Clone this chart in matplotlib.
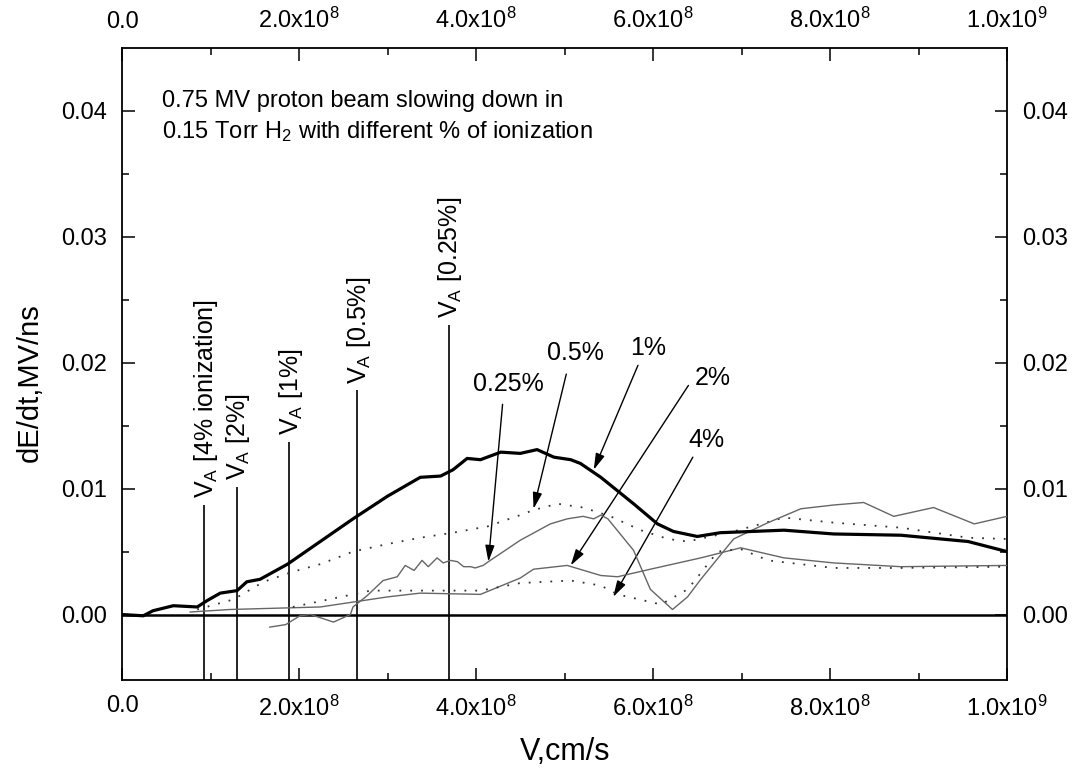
import numpy as np
import matplotlib
matplotlib.use("Agg")
import matplotlib.pyplot as plt
from matplotlib.ticker import FixedLocator

plt.rcParams['font.family'] = ['Liberation Sans', 'DejaVu Sans']
plt.rcParams['mathtext.fontset'] = 'custom'
plt.rcParams['mathtext.rm'] = 'Liberation Sans'
plt.rcParams['mathtext.it'] = 'Liberation Sans:italic'

# velocities in units of 1e9 cm/s, dE/dt in MV/ns
v_1pct = [0.0, 0.024, 0.035, 0.058, 0.085, 0.096, 0.111, 0.130, 0.141, 0.156, 0.187,
          0.224, 0.261, 0.300, 0.337, 0.360, 0.374, 0.390, 0.405, 0.428, 0.450, 0.469,
          0.488, 0.507, 0.518, 0.541, 0.578, 0.605, 0.623, 0.650, 0.676, 0.748, 0.804,
          0.880, 0.956, 1.0]
dedt_1pct = [0.0, -0.0001, 0.0003, 0.0007, 0.0006, 0.0011, 0.0017, 0.0019, 0.0026, 0.0028,
             0.0040, 0.0058, 0.0076, 0.0094, 0.0109, 0.0110, 0.0115, 0.0124, 0.0123, 0.0129,
             0.0128, 0.0131, 0.0125, 0.0123, 0.0120, 0.0109, 0.0088, 0.0072, 0.0066, 0.0062,
             0.0065, 0.0067, 0.0064, 0.0063, 0.0058, 0.0050]

v_05pct = [0.085, 0.126, 0.160, 0.193, 0.224, 0.261, 0.300, 0.337, 0.374, 0.413, 0.450,
           0.465, 0.492, 0.521, 0.552, 0.586, 0.617, 0.639, 0.691, 0.748, 0.804, 0.880,
           0.956, 1.0]
dedt_05pct = [0.0004, 0.0012, 0.0026, 0.0034, 0.0040, 0.0050, 0.0056, 0.0061, 0.0065, 0.0070,
              0.0079, 0.0083, 0.0088, 0.0085, 0.0078, 0.0067, 0.0060, 0.0058, 0.0066, 0.0077,
              0.0073, 0.0069, 0.0061, 0.0060]

v_025pct = [0.167, 0.185, 0.201, 0.213, 0.239, 0.258, 0.261, 0.277, 0.295, 0.311, 0.320,
            0.330, 0.339, 0.346, 0.356, 0.363, 0.371, 0.379, 0.386, 0.394, 0.399, 0.408,
            0.414, 0.450, 0.484, 0.503, 0.521, 0.533, 0.541, 0.549, 0.578, 0.597, 0.622,
            0.639, 0.654, 0.691, 0.730, 0.767, 0.804, 0.838, 0.872, 0.917, 0.963, 1.0]
dedt_025pct = [-0.0010, -0.0008, -0.0001, 0.0000, -0.0006, 0.0000, 0.0006, 0.0015, 0.0027,
               0.0030, 0.0039, 0.0035, 0.0043, 0.0038, 0.0045, 0.0041, 0.0043, 0.0042, 0.0038,
               0.0038, 0.0037, 0.0039, 0.0042, 0.0059, 0.0072, 0.0076, 0.0078, 0.0076, 0.0079,
               0.0076, 0.0051, 0.0020, 0.0004, 0.0014, 0.0028, 0.0060, 0.0073, 0.0084, 0.0087,
               0.0089, 0.0078, 0.0085, 0.0072, 0.0078]

v_2pct = [0.077, 0.122, 0.224, 0.300, 0.337, 0.405, 0.450, 0.465, 0.503, 0.541, 0.560,
          0.597, 0.654, 0.699, 0.748, 0.804, 0.880, 1.0]
dedt_2pct = [0.0002, 0.0004, 0.0006, 0.0014, 0.0017, 0.0016, 0.0029, 0.0036, 0.0039, 0.0031,
             0.0030, 0.0036, 0.0045, 0.0053, 0.0045, 0.0041, 0.0038, 0.0039]

v_4pct = [0.193, 0.281, 0.337, 0.405, 0.450, 0.507, 0.541, 0.560, 0.609, 0.639, 0.654,
          0.673, 0.699, 0.730, 0.804, 0.880, 1.0]
dedt_4pct = [0.0006, 0.0019, 0.0019, 0.0019, 0.0025, 0.0027, 0.0023, 0.0016, 0.0008, 0.0020,
             0.0033, 0.0050, 0.0052, 0.0043, 0.0037, 0.0037, 0.0038]

# Alfven velocity markers
va_x = [0.093, 0.130, 0.189, 0.266, 0.369]
va_top = [0.0087, 0.0101, 0.0137, 0.0178, 0.0230]
va_labels = ['V$_\\mathregular{A}$ [4% ionization]', 'V$_\\mathregular{A}$ [2%]',
             'V$_\\mathregular{A}$ [1%]', 'V$_\\mathregular{A}$ [0.5%]',
             'V$_\\mathregular{A}$ [0.25%]']

# curve labels: text position, arrow tail, arrow tip
curve_labels = ['0.25%', '0.5%', '1%', '2%', '4%']
label_xy = [(0.436, 0.0183), (0.512, 0.0208), (0.594, 0.0212), (0.667, 0.0188), (0.660, 0.0139)]
arrow_tail = [(0.430, 0.0167), (0.502, 0.0191), (0.583, 0.0198), (0.640, 0.0182), (0.645, 0.0125)]
arrow_tip = [(0.414, 0.0042), (0.465, 0.0084), (0.533, 0.0115), (0.507, 0.0039), (0.555, 0.0014)]

x_ticks = [0.0, 0.2e9, 0.4e9, 0.6e9, 0.8e9, 1.0e9]
x_ticklabels = ['0.0', '2.0x10$^\\mathregular{8}$', '4.0x10$^\\mathregular{8}$',
                '6.0x10$^\\mathregular{8}$', '8.0x10$^\\mathregular{8}$', '1.0x10$^\\mathregular{9}$']
y_ticks = [0.0, 0.01, 0.02, 0.03, 0.04]
y_ticklabels = ['0.00', '0.01', '0.02', '0.03', '0.04']

SCALE = 1e9
y_lo, y_hi = -0.0052, 0.045

fig = plt.figure(figsize=(10.76, 7.75), dpi=100)
ax = fig.add_axes([0.1134, 0.1226, 0.8225, 0.8154])

ax.vlines(np.array(va_x) * SCALE, y_lo, va_top, color='black', lw=1.2, zorder=2)
for x, top, lab in zip(va_x, va_top, va_labels):
    ax.annotate(lab, xy=(x * SCALE, top), xytext=(1, 5), textcoords='offset points',
                rotation=90, ha='center', va='bottom', fontsize=18)

ax.axhline(0.0, color='black', lw=1.8, zorder=3)

ax.plot(np.array(v_1pct) * SCALE, dedt_1pct, color='black', lw=2.3, zorder=5)
ax.plot(np.array(v_05pct) * SCALE, dedt_05pct, color='#333333', lw=1.3,
        linestyle=(0, (1, 5)), zorder=4)
ax.plot(np.array(v_025pct) * SCALE, dedt_025pct, color='#666666', lw=1.0, zorder=4)
ax.plot(np.array(v_2pct) * SCALE, dedt_2pct, color='#666666', lw=1.0, zorder=4)
ax.plot(np.array(v_4pct) * SCALE, dedt_4pct, color='#333333', lw=1.3,
        linestyle=(0, (1, 5)), zorder=4)

for lab, xy, tail, tip in zip(curve_labels, label_xy, arrow_tail, arrow_tip):
    ax.text(xy[0] * SCALE, xy[1], lab, ha='center', va='center', fontsize=18)
    ax.annotate('', xy=(tip[0] * SCALE, tip[1]), xytext=(tail[0] * SCALE, tail[1]),
                arrowprops=dict(arrowstyle='-|>,head_length=0.7,head_width=0.2',
                                color='black', lw=1.0, shrinkA=0, shrinkB=0,
                                mutation_scale=14))

ax.text(0.045, 0.9066, '0.75 MV proton beam slowing down in', transform=ax.transAxes,
        fontsize=17, va='baseline')
ax.text(0.045, 0.8576, '0.15 Torr H$_\\mathregular{2}$ with different % of ionization',
        transform=ax.transAxes, fontsize=17, va='baseline')

ax.set_xlim(0, 1.0e9)
ax.set_ylim(y_lo, y_hi)
ax.xaxis.set_major_locator(FixedLocator(x_ticks))
ax.xaxis.set_minor_locator(FixedLocator([0.1e9, 0.3e9, 0.5e9, 0.7e9, 0.9e9]))
ax.yaxis.set_major_locator(FixedLocator(y_ticks))
ax.yaxis.set_minor_locator(FixedLocator([0.005, 0.015, 0.025, 0.035]))
ax.set_xticklabels(x_ticklabels)
ax.set_yticklabels(y_ticklabels)
ax.tick_params(which='both', direction='in', top=True, right=True,
               labeltop=True, labelright=True, width=1.1)
ax.tick_params(which='major', length=9, labelsize=17, pad=11)
ax.tick_params(which='minor', length=5)
for sp in ax.spines.values():
    sp.set_linewidth(1.3)

fig.text(30 / 1076, 1 - 383 / 775, 'dE/dt,MV/ns', rotation=90, ha='center', va='center',
         fontsize=21)
fig.text(565 / 1076, 1 - 752 / 775, 'V,cm/s', ha='center', va='center', fontsize=22)

fig.savefig('out.png', dpi=100)
